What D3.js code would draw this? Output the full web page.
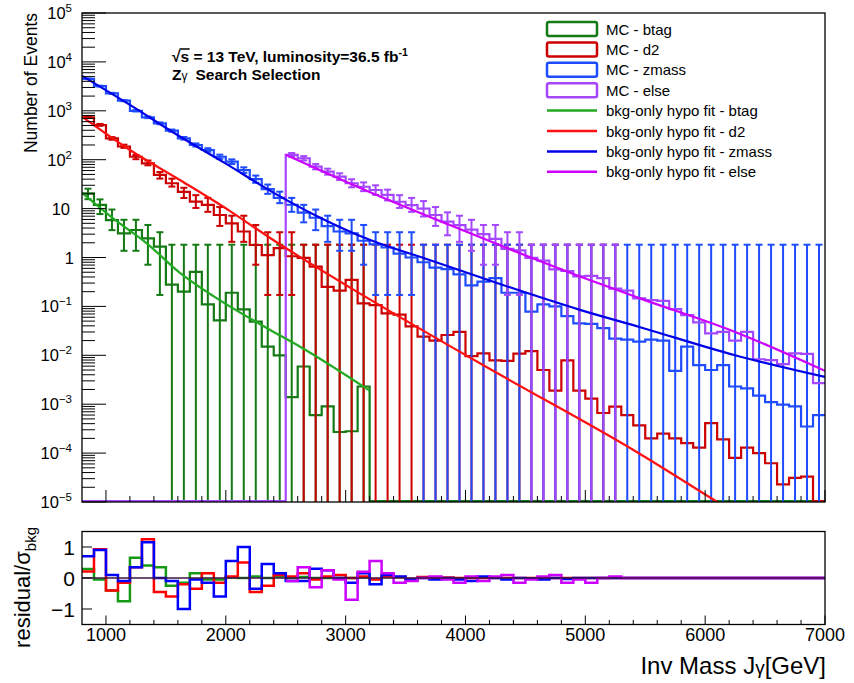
<!DOCTYPE html>
<html>
<head>
<meta charset="utf-8">
<script src="https://cdn.jsdelivr.net/npm/d3@7/dist/d3.min.js"></script>
<style>
  body { margin: 0; background: #fff; }
  text { font-family: "Liberation Sans", Arial, Helvetica, sans-serif; fill: #000; }
</style>
</head>
<body>
<script>
// bins: 100 GeV wide, lower edges from 800 to 6900
var binLow = d3.range(800, 7000, 100);
var binWidth = 100;

// MC histograms (events per bin)
var mcBtag = [20.5, 11.9, 5.8, 3.1, 3.65, 2.47, 1.67, 0.28, 0.20, 0.51, 0.11, 0.052, 0.19, 0.087, 0.049, 0.015,
  0.010, 0.0014, 0.0059, 0.0006, 0.0009, 0.00027, 0.00028, 0.0023, 0, 0, 0, 0, 0, 0, 0, 0,
  0, 0, 0, 0, 0, 0, 0, 0, 0, 0, 0, 0, 0, 0, 0, 0,
  0, 0, 0, 0, 0, 0, 0, 0, 0, 0, 0, 0, 0, 0];
var mcD2 = [735, 513, 274, 186, 115, 84, 49, 33, 22, 13.9, 11.9, 7.4, 5.0, 3.4, 1.8, 1.12,
  1.55, 1.06, 0.98, 0.65, 0.25, 0.21, 0.35, 0.115, 0.106, 0.072, 0.068, 0.039, 0.024, 0.020, 0.026, 0.030,
  0.0096, 0.011, 0.0079, 0.0077, 0.0108, 0.0122, 0.005, 0.0019, 0.0079, 0.0019, 0.0013, 0.00066, 0.00089, 0.0006, 0.00037, 0.0002,
  0.00025, 0.0002, 0.00016, 0.00013, 0.00041, 0.00019, 0.00008, 0.00013, 0.0001, 0.000062, 0.000023, 0.000031, 0.000033, 0];
var mcZmass = [4500, 3200, 2280, 1610, 1000, 735, 555, 393, 274, 200, 158, 115, 91, 61, 40, 25,
  16.5, 12, 8.3, 6.5, 4.4, 3.4, 3.1, 2.2, 1.85, 1.6, 1.2, 1.0, 0.8, 0.62, 0.58, 0.45,
  0.27, 0.32, 0.38, 0.19, 0.19, 0.078, 0.11, 0.10, 0.063, 0.045, 0.044, 0.036, 0.022, 0.021, 0.019, 0.021,
  0.02, 0.0048, 0.015, 0.0063, 0.005, 0.0063, 0.0023, 0.0021, 0.0015, 0.0011, 0.00098, 0.0009, 0.00035, 0.0006];
var mcElse = [0, 0, 0, 0, 0, 0, 0, 0, 0, 0, 0, 0, 0, 0, 0, 0,
  0, 125, 107, 72, 57, 45, 33, 28, 24, 19, 13.8, 11.8, 10, 7.4, 5.4, 4.6,
  3.7, 3.0, 2.4, 1.5, 1.4, 0.98, 0.86, 0.57, 0.53, 0.41, 0.42, 0.38, 0.23, 0.21, 0.146, 0.135,
  0.13, 0.088, 0.066, 0.047, 0.028, 0.030, 0.020, 0.030, 0.0083, 0.008, 0.0066, 0.011, 0.0107, 0.0027];

// pseudo-data counts per bin (null = no error bar drawn)
var dataBtag = [20, 11, 6, 3, 3, 2, 1, 0, 0, 0, 0, 0, 0, 0, 0, 0,
  0, 0, 0, 0, 0, 0, 0, 0, null, null, null, null, null, null, null, null,
  null, null, null, null, null, null, null, null, null, null, null, null, null, null, null, null,
  null, null, null, null, null, null, null, null, null, null, null, null, null, null];
var dataD2 = [740, 515, 272, 188, 113, 86, 48, 34, 21, 14, 12, 7, 4, 4, 2, 1,
  1, 1, 0, 0, 0, 0, 0, 0, 0, 0, 0, 0, 0, 0, 0, 0,
  0, 0, 0, 0, 0, 0, 0, 0, 0, 0, 0, 0, 0, null, null, null,
  null, null, null, null, null, null, null, null, null, null, null, null, null, null];
var dataZmass = [4500, 3200, 2280, 1610, 1000, 735, 555, 393, 274, 200, 158, 115, 91, 61, 40, 25,
  17, 12, 8, 6, 4, 3, 3, 2, 1, 1, 1, 1, 0, 0, 0, 0,
  0, 0, 0, 0, 0, 0, 0, 0, 0, 0, 0, 0, 0, 0, 0, 0,
  0, 0, 0, 0, 0, 0, 0, 0, 0, 0, 0, 0, 0, 0];
var dataElse = [null, null, null, null, null, null, null, null, null, null, null, null, null, null, null, null,
  null, 125, 107, 72, 57, 45, 33, 28, 24, 19, 14, 12, 10, 7, 5, 4,
  3, 2, 2, 1, 1, 0, 0, 0, 0, 0, 0, 0, 0, null, null, null,
  null, null, null, null, null, null, null, null, null, null, null, null, null, null];

// background-only fits, sampled along the drawn curves
var fitBtagX = [800, 1060, 1340, 1620, 1900, 2370, 2620, 3200];
var fitBtagY = [21, 6.3, 1.95, 0.48, 0.16, 0.033, 0.015, 0.0019];
var fitD2X = [800, 1200, 1620, 2035, 2370, 3160, 3900, 4290, 5460, 6100, 6200];
var fitD2Y = [760, 158, 38, 8.9, 2.5, 0.16, 0.014, 0.004, 0.000095, 0.00001, 0.000007];
var fitZmassX = [800, 1200, 1600, 2000, 2400, 2800, 3200, 3700, 4300, 4955, 5450, 6250, 7000];
var fitZmassY = [5200, 1320, 316, 83, 21, 6.3, 2.3, 0.89, 0.28, 0.085, 0.038, 0.01, 0.0036];
var fitElseX = [2500, 3160, 3870, 4955, 5456, 6250, 7000];
var fitElseY = [126, 24, 4.6, 0.41, 0.146, 0.03, 0.0048];

// residual / sigma_bkg per bin
var resBtag = [0.29, -0.05, -0.4, -0.75, 0.65, 0.4, 0.35, -0.25, -0.15, 0.15, -0.05, -0.05, 0.02, 0, 0.05, 0,
  0.05, 0, 0.03, 0, 0, 0, 0, 0.02, null, null, null, null, null, null, null, null,
  null, null, null, null, null, null, null, null, null, null, null, null, null, null, null, null,
  null, null, null, null, null, null, null, null, null, null, null, null, null, null];
var resD2 = [0.21, 0.93, -0.4, -0.15, 0.35, 1.25, -0.45, -0.6, -0.2, -0.35, 0.15, -0.15, 0.05, 0.5, -0.45, -0.25,
  0.1, 0.05, 0.15, -0.05, 0.05, 0.1, 0, 0.05, -0.05, 0.05, 0.03, -0.03, 0.03, 0, 0.02, 0,
  0, 0, 0, 0, 0, 0, 0, 0, 0, 0, 0, 0, 0, 0, 0, 0,
  0, 0, 0, 0, 0, 0, 0, 0, 0, 0, 0, 0, 0, 0];
var resZmass = [0.7, 0.9, 0.1, -0.1, 0.35, 1.15, 0, -0.1, -1.0, -0.05, -0.15, -0.6, 0.55, 1.0, -0.35, 0.45,
  0.15, -0.1, -0.1, 0.3, 0.25, 0, -0.15, 0.15, -0.2, 0.1, 0.05, -0.05, 0, -0.05, 0, -0.05,
  -0.1, 0.05, 0, -0.05, 0, -0.02, -0.05, 0, -0.03, 0, 0, 0, 0, 0, 0, 0,
  0, 0, 0, 0, 0, 0, 0, 0, 0, 0, 0, 0, 0, 0];
var resElse = [null, null, null, null, null, null, null, null, null, null, null, null, null, null, null, null,
  null, -0.1, 0.35, -0.3, 0.25, -0.05, -0.7, 0.2, 0.55, 0.15, -0.15, -0.1, 0, 0.05, -0.05, -0.15,
  0.05, -0.1, 0.05, 0.1, -0.15, -0.05, 0.05, 0.1, -0.15, -0.05, -0.15, 0, 0.05, 0, 0, 0,
  0, 0, 0, 0, 0, 0, 0, 0, 0, 0, 0, 0, 0, 0];

var legendLabels = ["MC - btag", "MC - d2", "MC - zmass", "MC - else",
  "bkg-only hypo fit - btag", "bkg-only hypo fit - d2", "bkg-only hypo fit - zmass", "bkg-only hypo fit - else"];
var yTicksTop = [1e-5, 1e-4, 1e-3, 1e-2, 1e-1, 1, 10, 1e2, 1e3, 1e4, 1e5];
var xTicks = [1000, 2000, 3000, 4000, 5000, 6000, 7000];
var yTicksRes = [-1, 0, 1];

var series = [
  {mc: mcBtag, data: dataBtag, fx: fitBtagX, fy: fitBtagY, res: resBtag, col: "#147a14", fit: "#22aa22", rcol: "#169a16"},
  {mc: mcD2, data: dataD2, fx: fitD2X, fy: fitD2Y, res: resD2, col: "#cc0000", fit: "#ff1010", rcol: "#ff0000"},
  {mc: mcZmass, data: dataZmass, fx: fitZmassX, fy: fitZmassY, res: resZmass, col: "#1f4cff", fit: "#0000e8", rcol: "#0000ff"},
  {mc: mcElse, data: dataElse, fx: fitElseX, fy: fitElseY, res: resElse, col: "#a447ff", fit: "#cc00ff", rcol: "#cc00ff"}
];

var svg = d3.select("body").append("svg").attr("width", 854).attr("height", 683);

var x = d3.scaleLinear().domain([800, 7000]).range([82, 825]);
var y = d3.scaleLog().domain([1e-5, 1e5]).range([502, 13]);
var yr = d3.scaleLinear().domain([-1.5, 1.5]).range([624.5, 531.5]);

var defs = svg.append("defs");
defs.append("clipPath").attr("id", "clipTop").append("rect")
  .attr("x", 82).attr("y", 13).attr("width", 743).attr("height", 489);
defs.append("clipPath").attr("id", "clipBot").append("rect")
  .attr("x", 82).attr("y", 531.5).attr("width", 743).attr("height", 93);

// empty bins sit on the bottom of the log frame
function yClamp(v) { return v > 1e-5 ? y(v) : 501; }

// 68% Poisson interval (Wilson-Hilferty)
function poisLo(n) { return n === 0 ? 0 : n * Math.pow(1 - 1 / (9 * n) - 1 / (3 * Math.sqrt(n)), 3); }
function poisHi(n) { var m = n + 1; return m * Math.pow(1 - 1 / (9 * m) + 1 / (3 * Math.sqrt(m)), 3); }

function stepPath(vals, yf) {
  var p = "", open = false;
  vals.forEach(function(v, i) {
    if (v === null) { open = false; return; }
    var x0 = x(binLow[i]), x1 = x(binLow[i] + binWidth), yy = yf(v);
    p += (open ? "V" + yy : "M" + x0 + "," + yy) + "H" + x1;
    open = true;
  });
  return p;
}

// ---- top pad ----
var gTop = svg.append("g").attr("clip-path", "url(#clipTop)");

series.forEach(function(s) {
  var eg = gTop.append("g").attr("stroke", s.col).attr("stroke-width", 2);
  s.data.forEach(function(n, i) {
    if (n === null) return;
    var cx = x(binLow[i] + binWidth / 2);
    var lo = poisLo(n), hi = poisHi(n);
    var y0 = lo > 1e-5 ? y(lo) : 503, y1 = y(hi);
    eg.append("line").attr("x1", cx).attr("x2", cx).attr("y1", y0).attr("y2", y1);
    eg.append("line").attr("x1", cx - 3.5).attr("x2", cx + 3.5).attr("y1", y1).attr("y2", y1);
    if (lo > 1e-5) eg.append("line").attr("x1", cx - 3.5).attr("x2", cx + 3.5).attr("y1", y0).attr("y2", y0);
  });
  gTop.append("path").attr("d", stepPath(s.mc, yClamp))
    .attr("fill", "none").attr("stroke", s.col).attr("stroke-width", 2.2);
});

var fitLine = d3.line().x(function(d) { return x(d[0]); }).y(function(d) { return y(d[1]); })
  .curve(d3.curveMonotoneX);
series.forEach(function(s) {
  gTop.append("path").datum(d3.zip(s.fx, s.fy)).attr("d", fitLine)
    .attr("fill", "none").attr("stroke", s.fit).attr("stroke-width", 2.2);
});

// frame + ticks
svg.append("rect").attr("x", 82).attr("y", 13).attr("width", 743).attr("height", 489)
  .attr("fill", "none").attr("stroke", "#000").attr("stroke-width", 1.3);

var axTop = svg.append("g").attr("stroke", "#000").attr("stroke-width", 1);
for (var e = -5; e <= 5; e++) {
  axTop.append("line").attr("x1", 82).attr("x2", 106).attr("y1", y(Math.pow(10, e))).attr("y2", y(Math.pow(10, e)));
  if (e < 5) for (var k = 2; k <= 9; k++) {
    var yy = y(k * Math.pow(10, e));
    axTop.append("line").attr("x1", 82).attr("x2", 95).attr("y1", yy).attr("y2", yy);
  }
}
for (var g = 1000; g <= 7000; g += 200) {
  var major = g % 1000 === 0;
  axTop.append("line").attr("x1", x(g)).attr("x2", x(g)).attr("y1", 502).attr("y2", 502 - (major ? 12 : 6));
}

yTicksTop.forEach(function(v) {
  var ex = Math.round(Math.log10(v));
  var t = svg.append("text").attr("x", 72).attr("y", y(v) + 6).attr("text-anchor", "end").style("font-size", "16.5px");
  if (ex === 0) { t.text("1"); t.attr("x", 74); }
  else if (ex === 1) { t.text("10"); t.attr("x", 70); }
  else {
    t.append("tspan").text("10");
    t.append("tspan").attr("dy", -7).style("font-size", "11.5px").text(ex < 0 ? "\u2212" + (-ex) : ex);
  }
});

svg.append("text").attr("transform", "translate(37,13) rotate(-90)").attr("text-anchor", "end")
  .style("font-size", "17.5px").text("Number of Events");

// annotation
var ann = svg.append("text").attr("x", 172).attr("y", 62).style("font-size", "15.5px").style("font-weight", "bold");
ann.append("tspan").text("\u221A");
ann.append("tspan").text("s = 13 TeV, luminosity=36.5 fb");
ann.append("tspan").attr("dy", -6).style("font-size", "10.5px").text("-1");
var annNode = ann.node();
var rw = annNode.getSubStringLength(0, 1), sw = annNode.getSubStringLength(1, 1);
svg.append("line").attr("x1", 172 + rw - 1).attr("x2", 172 + rw + sw + 0.5)
  .attr("y1", 49).attr("y2", 49).attr("stroke", "#000").attr("stroke-width", 1.5);
var ann2 = svg.append("text").attr("x", 172).attr("y", 80).style("font-size", "15.5px").style("font-weight", "bold");
ann2.append("tspan").text("Z");
ann2.append("tspan").style("font-size", "12px").style("font-weight", "normal").text("\u03B3");
ann2.append("tspan").attr("dx", 8).text("Search Selection");

// legend
var leg = svg.append("g");
legendLabels.forEach(function(lab, i) {
  var cy = 29 + i * 20.4, s = series[i % 4];
  if (i < 4) {
    leg.append("rect").attr("x", 547).attr("y", cy - 7).attr("width", 50).attr("height", 14).attr("rx", 2)
      .attr("fill", "#fff").attr("stroke", s.col).attr("stroke-width", 2.5);
  } else {
    leg.append("line").attr("x1", 547).attr("x2", 597).attr("y1", cy).attr("y2", cy)
      .attr("stroke", s.fit).attr("stroke-width", 2.5);
  }
  leg.append("text").attr("x", 606).attr("y", cy + 5.5).style("font-size", "15px").text(lab);
});

// ---- bottom pad ----
var gBot = svg.append("g").attr("clip-path", "url(#clipBot)");
series.forEach(function(s) {
  gBot.append("path").attr("d", stepPath(s.res, yr))
    .attr("fill", "none").attr("stroke", s.rcol).attr("stroke-width", 2.5);
});
gBot.append("line").attr("x1", 82).attr("x2", 825).attr("y1", yr(0)).attr("y2", yr(0))
  .attr("stroke", "#3a1640").attr("stroke-width", 1.4);

svg.append("rect").attr("x", 82).attr("y", 531.5).attr("width", 743).attr("height", 93)
  .attr("fill", "none").attr("stroke", "#000").attr("stroke-width", 1.3);

var axBot = svg.append("g").attr("stroke", "#000").attr("stroke-width", 1);
yTicksRes.forEach(function(v) {
  axBot.append("line").attr("x1", 82).attr("x2", 92).attr("y1", yr(v)).attr("y2", yr(v));
});
for (var g2 = 1000; g2 <= 7000; g2 += 200) {
  var maj = g2 % 1000 === 0;
  axBot.append("line").attr("x1", x(g2)).attr("x2", x(g2)).attr("y1", 624.5).attr("y2", 624.5 - (maj ? 9 : 4.5));
}

xTicks.forEach(function(v) {
  svg.append("text").attr("x", x(v)).attr("y", 641).attr("text-anchor", "middle")
    .style("font-size", "18px").text(v);
});
yTicksRes.forEach(function(v) {
  svg.append("text").attr("x", 75).attr("y", yr(v) + 7.5).attr("text-anchor", "end")
    .style("font-size", "21px").text(v < 0 ? "\u2212" + (-v) : v);
});

var xt = svg.append("text").attr("x", 826).attr("y", 674).attr("text-anchor", "end").style("font-size", "24px");
xt.append("tspan").text("Inv Mass J");
xt.append("tspan").style("font-size", "19px").text("\u03B3");
xt.append("tspan").text("[GeV]");

var rt = svg.append("text").attr("transform", "translate(30,527) rotate(-90)").attr("text-anchor", "end")
  .style("font-size", "22px");
rt.append("tspan").text("residual/\u03C3");
rt.append("tspan").attr("dy", 6).style("font-size", "15px").text("bkg");
</script>
</body>
</html>
